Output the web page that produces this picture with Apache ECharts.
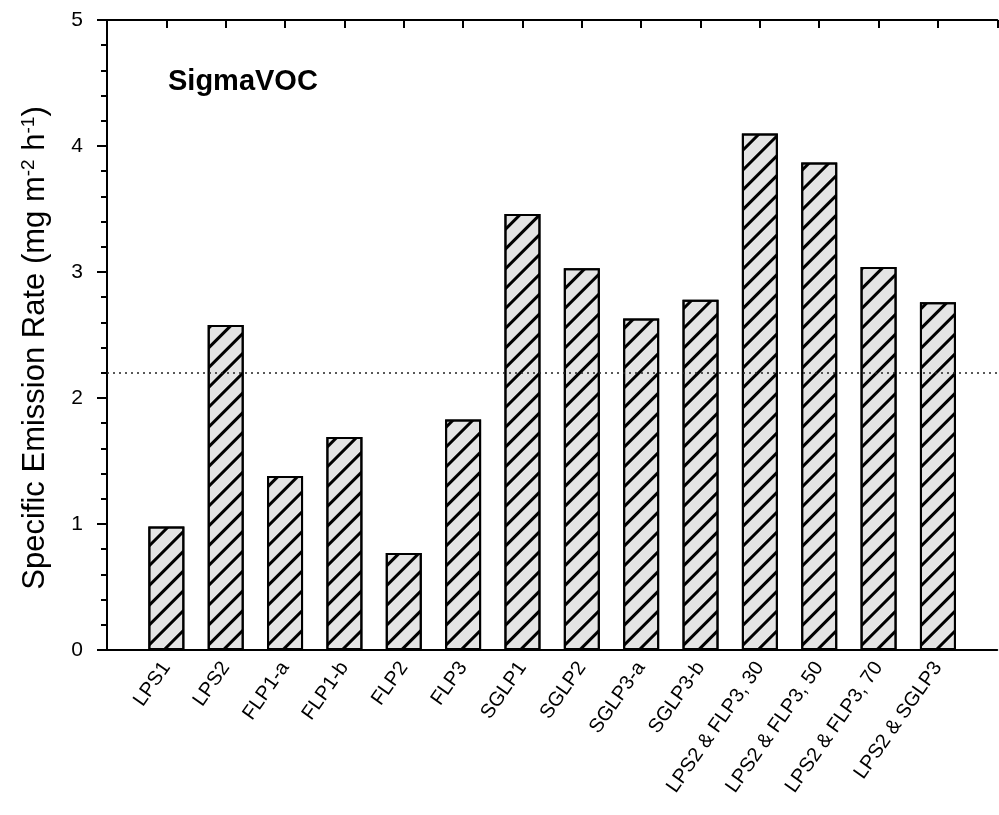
<!DOCTYPE html>
<html>
<head>
<meta charset="utf-8">
<script src="https://cdn.jsdelivr.net/npm/echarts@6/dist/echarts.min.js"></script>
<style>
  html, body { margin: 0; padding: 0; background: #fff; }
  #main { width: 999px; height: 815px; }
</style>
</head>
<body>
<div id="main"></div>
<script>
// sample names, left to right
var categories = ['LPS1', 'LPS2', 'FLP1-a', 'FLP1-b', 'FLP2', 'FLP3', 'SGLP1', 'SGLP2',
    'SGLP3-a', 'SGLP3-b', 'LPS2 & FLP3, 30', 'LPS2 & FLP3, 50', 'LPS2 & FLP3, 70', 'LPS2 & SGLP3'];
// specific emission rate, mg m-2 h-1
var emissionRates = [0.98, 2.58, 1.38, 1.69, 0.77, 1.83, 3.46, 3.03, 2.63, 2.78, 4.10, 3.87, 3.04, 2.76];
var referenceLevel = 2.2;
var yTicks = [0, 1, 2, 3, 4, 5];

var font = '"Liberation Sans", Arial, sans-serif';

var barData = categories.map(function (c, i) {
    return [i, emissionRates[i]];
});

var chart = echarts.init(document.getElementById('main'));

chart.setOption({
    animation: false,
    backgroundColor: '#fff',
    textStyle: { fontFamily: font, color: '#000' },
    title: {
        text: 'SigmaVOC',
        left: 163,
        top: 62,
        textStyle: { fontFamily: font, fontSize: 29, fontWeight: 'bold', color: '#000' }
    },
    grid: { left: 107, right: -8, top: 20, bottom: 165 },
    xAxis: [{
        type: 'value',
        min: -1,
        max: 14,
        interval: 1,
        position: 'bottom',
        splitLine: { show: false },
        axisTick: { show: false },
        axisLine: { show: true, onZero: false, lineStyle: { color: '#000', width: 2 } },
        axisLabel: {
            rotate: 55,
            margin: 14,
            fontSize: 20,
            fontFamily: font,
            color: '#000',
            formatter: function (v) { return categories[v] || ''; }
        }
    }, {
        type: 'value',
        min: -1,
        max: 14,
        interval: 1,
        position: 'top',
        splitLine: { show: false },
        axisLabel: { show: false },
        axisTick: { show: true, inside: true, length: 8, lineStyle: { color: '#000', width: 2 } },
        axisLine: { show: true, onZero: false, lineStyle: { color: '#000', width: 2 } }
    }],
    yAxis: {
        type: 'value',
        min: yTicks[0],
        max: yTicks[yTicks.length - 1],
        interval: 1,
        splitLine: { show: false },
        axisLine: { show: true, onZero: false, lineStyle: { color: '#000', width: 2 } },
        axisTick: { show: true, inside: false, length: 10, lineStyle: { color: '#000', width: 2 } },
        minorTick: { show: true, splitNumber: 5, length: 6, lineStyle: { color: '#000', width: 2 } },
        axisLabel: { margin: 24, fontSize: 21, fontFamily: font, color: '#000' },
        name: '{n|Specific Emission Rate (mg m}{s|-2}{n| h}{s|-1}{n|)}',
        nameLocation: 'middle',
        nameGap: 55,
        nameTextStyle: {
            padding: [0, 26, 0, 0],
            rich: {
                n: { fontFamily: font, fontSize: 31, color: '#000', lineHeight: 33 },
                s: { fontFamily: font, fontSize: 19, color: '#000', verticalAlign: 'top', lineHeight: 33 }
            }
        }
    },
    series: [{
        type: 'bar',
        data: barData,
        barWidth: 36,
        itemStyle: {
            color: '#e4e4e4',
            borderColor: '#000',
            borderWidth: 2,
            decal: {
                symbol: 'rect',
                symbolSize: 1,
                dashArrayX: [1, 0],
                dashArrayY: [2.5, 10.5],
                rotation: -Math.PI / 4,
                color: '#000'
            }
        },
        markLine: {
            silent: true,
            symbol: 'none',
            label: { show: false },
            lineStyle: { type: [2, 4], color: '#222', width: 1.5 },
            data: [{ yAxis: referenceLevel }]
        }
    }]
});
</script>
</body>
</html>
